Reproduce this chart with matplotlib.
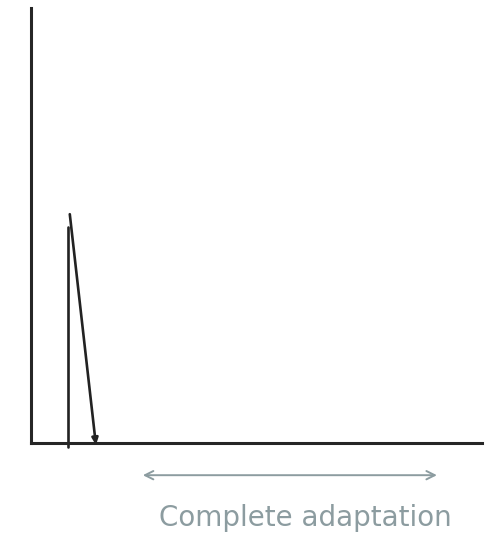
import matplotlib
matplotlib.use("Agg")
import matplotlib.pyplot as plt

# Sketch data (time, response) in axis units 0-100
stim_x = [8.2, 8.2]
stim_y = [-0.9, 49.7]
decay_x = [8.6, 14.4]
decay_y = [52.6, -0.5]
adapt_span = [24.8, 90.0]
adapt_y = -7.4
adapt_label = "Complete adaptation"

fig = plt.figure(figsize=(4.88, 5.36), dpi=100)
ax = fig.add_axes([31/488, (536-443)/536, 451/488, 435/536])
ax.set_xlim(0, 100)
ax.set_ylim(0, 100)
for s in ["top", "right"]:
    ax.spines[s].set_visible(False)
for s in ["left", "bottom"]:
    ax.spines[s].set_linewidth(2.2)
    ax.spines[s].set_color("#262626")
ax.set_xticks([])
ax.set_yticks([])

ink = "#222222"
ax.plot(stim_x, stim_y, color=ink, lw=1.9, clip_on=False, solid_capstyle="round")
ax.annotate("", xy=(decay_x[1], decay_y[1]), xytext=(decay_x[0], decay_y[0]),
            arrowprops=dict(arrowstyle="-|>,head_length=0.4,head_width=0.18",
                            color=ink, lw=1.9, shrinkA=0, shrinkB=0),
            annotation_clip=False)

grey = "#8c9ca0"
ax.annotate("", xy=(adapt_span[1], adapt_y), xytext=(adapt_span[0], adapt_y),
            arrowprops=dict(arrowstyle="<->,head_length=0.6,head_width=0.3",
                            color=grey, lw=1.4, shrinkA=0, shrinkB=0),
            annotation_clip=False)
ax.text(60.8, -17.2, adapt_label,
        color=grey, fontsize=20, ha="center", va="center", clip_on=False,
        family="DejaVu Sans")

fig.savefig("out.png", dpi=100)
